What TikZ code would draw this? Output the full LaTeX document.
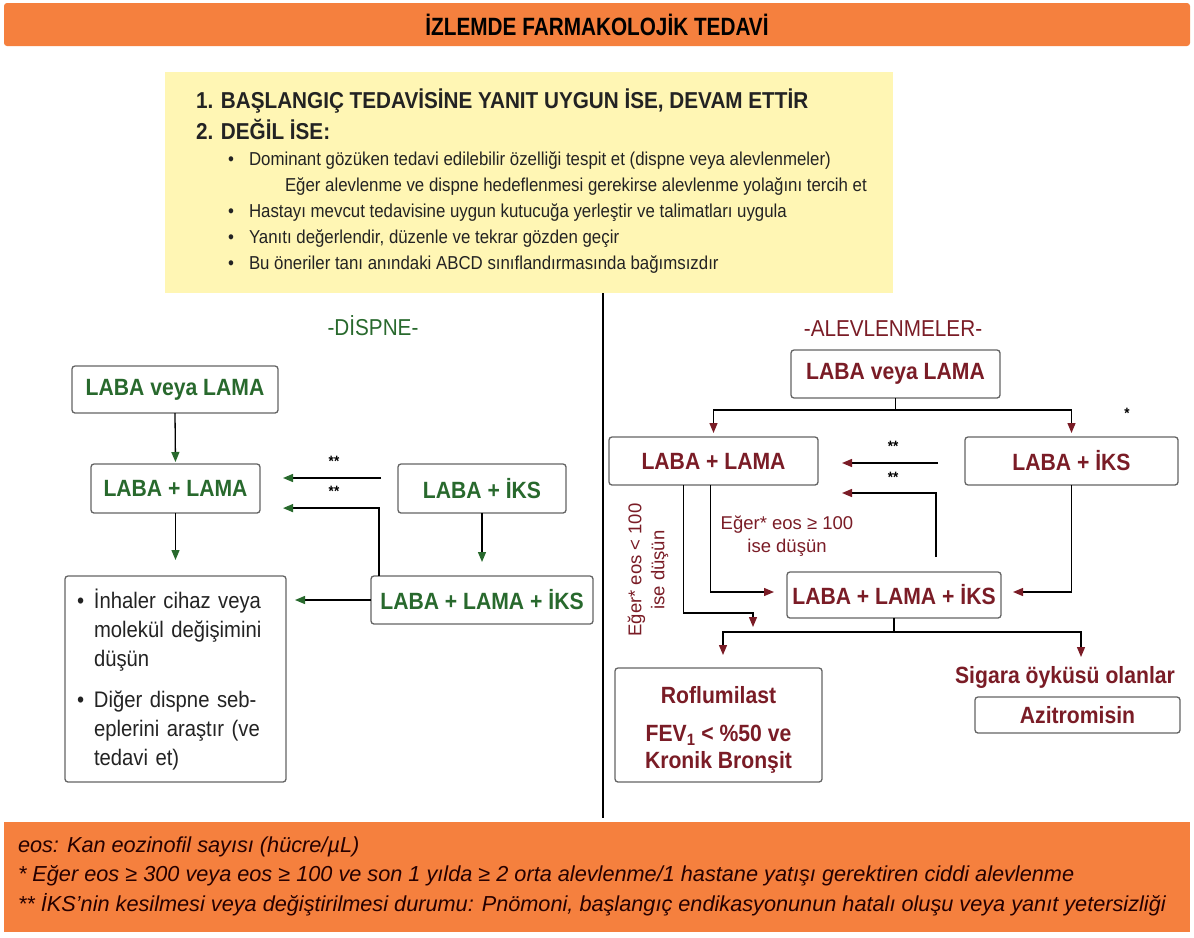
\documentclass[tikz,border=0pt]{standalone}
\usepackage{fontspec}
\setmainfont{Liberation Sans}[FakeStretch=0.9]
\newfontfamily\titlefont{Liberation Sans}[FakeStretch=0.83]
\newfontfamily\footfont{Liberation Sans}
\newfontfamily\plainfont{Liberation Sans}
\usetikzlibrary{arrows.meta,calc}
\definecolor{orangebar}{RGB}{245,128,62}
\definecolor{yellowbg}{RGB}{255,246,180}
\definecolor{dgreen}{RGB}{40,105,45}
\definecolor{dred}{RGB}{122,28,38}
\definecolor{boxgray}{RGB}{100,100,100}
\definecolor{txtgray}{RGB}{35,35,35}
\begin{document}
\begin{tikzpicture}[x=1pt,y=-1pt,
  every node/.style={inner sep=0pt, outer sep=0pt},
  gbox/.style={draw=boxgray, line width=1.3pt, rounded corners=3pt, fill=white, text=dgreen, font=\fontsize{23.5}{27}\selectfont\bfseries, align=center},
  rbox/.style={gbox, text=dred},
  garrow/.style={line width=1.3pt, draw=black, -{Triangle[length=10pt,width=8pt,color=dgreen]}},
  rarrow/.style={line width=1.3pt, draw=black, -{Triangle[length=10pt,width=8pt,color=dred]}},
  stars/.style={font=\fontsize{15}{15}\selectfont\bfseries, text=black},
  ybold/.style={anchor=west, font=\fontsize{23}{26}\selectfont\bfseries, text=txtgray},
  ytxt/.style={anchor=west, font=\fontsize{18.7}{22}\selectfont, text=txtgray},
  foottxt/.style={anchor=west, font={\fontsize{21.7}{24}\footfont\itshape}, text=black!85!red},
  heading/.style={font=\fontsize{23}{26}\selectfont},
  cond/.style={text=dred, font={\fontsize{18.5}{23}\plainfont}, align=center},
]
\useasboundingbox (0,0) rectangle (1194,937);
\fill[white] (0,0) rectangle (1194,937);

% title bar
\node[fill=orangebar, rounded corners=3pt, anchor=north west, minimum width=1186pt, minimum height=43pt] (bar) at (4,3) {};
\node[font={\fontsize{25}{28}\titlefont\bfseries}, text=black] (title) at (bar.center) {İZLEMDE FARMAKOLOJİK TEDAVİ};

% yellow box
\node[fill=yellowbg, anchor=north west, minimum width=728pt, minimum height=221pt] (ybox) at (165,72) {};
\node[ybold] (y1) at (196,101) {1. BAŞLANGIÇ TEDAVİSİNE YANIT UYGUN İSE, DEVAM ETTİR};
\node[ybold] (y2) at (196,129) {2. DEĞİL İSE:};
\node[ytxt] (b1) at (228,161) {•};
\node[ytxt] (t1) at (249,161) {Dominant gözüken tedavi edilebilir özelliği tespit et (dispne veya alevlenmeler)};
\node[ytxt] (t1b) at (285,187) {Eğer alevlenme ve dispne hedeflenmesi gerekirse alevlenme yolağını tercih et};
\node[ytxt] (b2) at (228,213) {•};
\node[ytxt] (t2) at (249,213) {Hastayı mevcut tedavisine uygun kutucuğa yerleştir ve talimatları uygula};
\node[ytxt] (b3) at (228,239) {•};
\node[ytxt] (t3) at (249,239) {Yanıtı değerlendir, düzenle ve tekrar gözden geçir};
\node[ytxt] (b4) at (228,265) {•};
\node[ytxt] (t4) at (249,265) {Bu öneriler tanı anındaki ABCD sınıflandırmasında bağımsızdır};

% divider
\coordinate (dtop) at (603,293);
\coordinate (dbot) at (603,818);
\draw[line width=1.3pt] (dtop) -- (dbot);

% ---------- left: DISPNE ----------
\node[heading, text=dgreen] (hl) at (373,326) {-DİSPNE-};
\node[gbox, minimum width=206pt, minimum height=47pt] (l1) at (175,389.5) {LABA veya LAMA};
\node[gbox, minimum width=169pt, minimum height=49pt] (l2) at (175.5,488.5) {LABA + LAMA};
\node[gbox, minimum width=168pt, minimum height=49pt] (l3) at (482,488.5) {LABA + İKS};
\node[gbox, minimum width=222pt, minimum height=48pt] (l4) at (482,600) {LABA + LAMA + İKS};
\node[draw=boxgray, line width=1.3pt, rounded corners=3pt, fill=white, minimum width=221pt, minimum height=206pt] (l5) at (175.5,679) {};
\node[anchor=north west, text width=200pt, font=\fontsize{22.5}{29}\selectfont, text=txtgray, align=left] (l5t) at (77,589)
 {\makebox[17pt][l]{•}İnhaler cihaz veya\\\hspace*{17pt}molekül değişimini\\\hspace*{17pt}düşün\\[12pt]
  \makebox[17pt][l]{•}Diğer dispne seb-\\\hspace*{17pt}eplerini araştır (ve\\\hspace*{17pt}tedavi et)};

\draw[garrow, shorten >=2pt] (l1.south) -- (l2.north);
\draw[garrow, shorten <=17pt, shorten >=23pt] ([yshift=10.5pt]l3.west) -- ([yshift=10.5pt]l2.east);
\draw[garrow, shorten >=23pt] ([xshift=8pt]l4.north west) |- ($(l2.east)!0.8!(l2.south east)$);
\draw[garrow, shorten >=14pt] (l3.south) -- (l4.north);
\draw[garrow, shorten >=16pt] (l2.south) -- (l5.north);
\draw[garrow, shorten >=9pt] (l4.west) -- (l4.west -| l5.east);
\node[stars] (s1) at (334,461) {**};
\node[stars] (s2) at (334,491) {**};

% ---------- right: ALEVLENMELER ----------
\node[heading, text=dred] (hr) at (893,329) {-ALEVLENMELER-};
\node[rbox, minimum width=209pt, minimum height=48pt] (r1) at (895.5,374) {LABA veya LAMA};
\node[rbox, minimum width=209pt, minimum height=48pt] (r2) at (713.5,461) {LABA + LAMA};
\node[rbox, minimum width=213pt, minimum height=48pt] (r3) at (1071.5,461) {LABA + İKS};
\node[rbox, minimum width=214pt, minimum height=46pt] (r4) at (894,595) {LABA + LAMA + İKS};
\node[rbox, minimum width=207pt, minimum height=114pt] (r5) at (718.5,725) {};
\node[text=dred, font=\fontsize{23.5}{27}\selectfont\bfseries] (r5a) at (718.5,695) {Roflumilast};
\node[text=dred, font=\fontsize{23.5}{27}\selectfont\bfseries, align=center] (r5b) at (718.5,749) {FEV\textsubscript{1} < \%50 ve\\Kronik Bronşit};
\node[text=dred, font=\fontsize{23.5}{27}\selectfont\bfseries] (r6) at (1065,677) {Sigara öyküsü olanlar};
\node[rbox, minimum width=205pt, minimum height=36pt] (r7) at (1077.5,715) {Azitromisin};
\coordinate (sig) at (1081,657);

\draw[rarrow, shorten >=4pt] (r1.south) -- ++(0,12) -| (r2.north);
\draw[rarrow, shorten >=4pt] (r1.south) -- ++(0,12) -| (r3.north);
\draw[rarrow, shorten <=27pt, shorten >=24pt] ([yshift=-2pt]r3.west) -- ([yshift=-2pt]r2.east);
\draw[rarrow, shorten >=24pt] ([xshift=42pt,yshift=15pt]r4.north) |- ([yshift=-8pt]r2.south east);
\draw[rarrow, shorten >=12pt] (r3.south) |- ([yshift=3pt]r4.east);
\draw[rarrow, shorten >=13pt] ([xshift=-3pt]r2.south) |- ([yshift=3pt]r4.west);
\draw[rarrow, shorten >=41pt] ([xshift=-30pt]r2.south) -- ++(0,128) -| ([xshift=34.5pt]r5.north);
\draw[rarrow, shorten >=13pt] (r4.south) -- ++(0,14) -| ([xshift=4.5pt]r5.north);
\draw[rarrow] (r4.south) -- ++(0,14) -| (sig);
\node[stars] (s3) at (893,446) {**};
\node[stars] (s4) at (893,477) {**};
\node[stars] (s5) at (1127,413) {*};
\node[cond] (c1) at (787,536) {Eğer* eos ≥ 100\\ise düşün};
\node[cond, rotate=90] (c2) at (648,570) {Eğer* eos < 100\\ise düşün};

% footer
\node[fill=orangebar, anchor=north west, minimum width=1186pt, minimum height=110pt] (foot) at (4,822) {};
\node[foottxt] (f1) at (18,847) {eos: Kan eozinofil sayısı (hücre/µL)};
\node[foottxt] (f2) at (18,876) {* Eğer eos ≥ 300 veya eos ≥ 100 ve son 1 yılda ≥ 2 orta alevlenme/1 hastane yatışı gerektiren ciddi alevlenme};
\node[foottxt] (f3) at (18,905) {** İKS’nin kesilmesi veya değiştirilmesi durumu: Pnömoni, başlangıç endikasyonunun hatalı oluşu veya yanıt yetersizliği};
\end{tikzpicture}
\end{document}
